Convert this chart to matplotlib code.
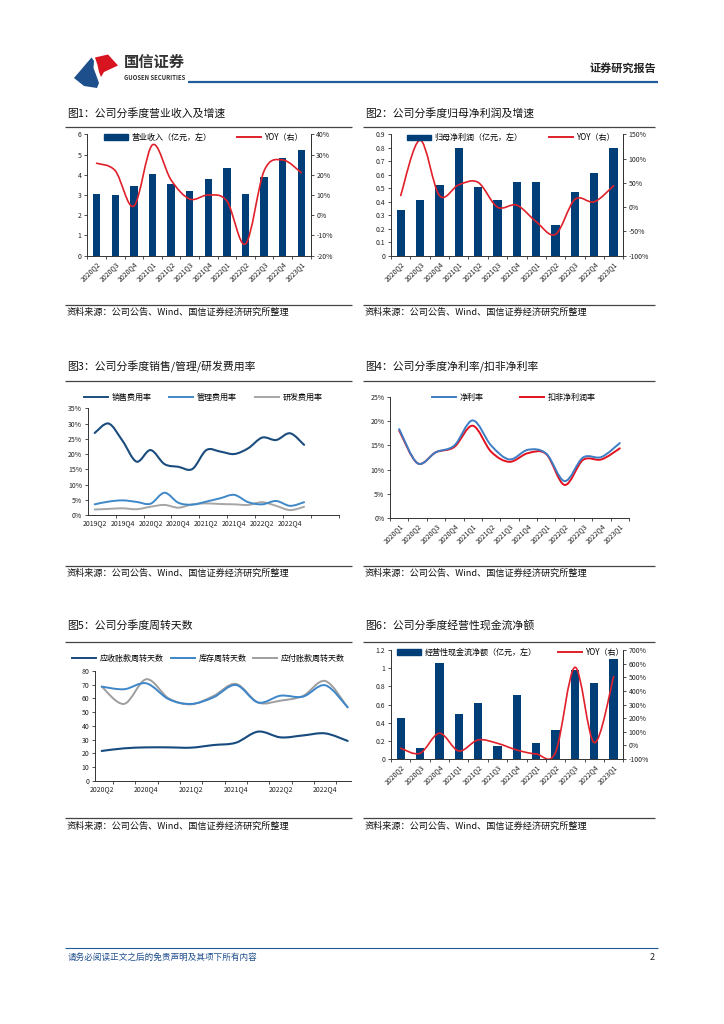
import numpy as np
import matplotlib
matplotlib.use('Agg')
import matplotlib.pyplot as plt
import matplotlib.patches as patches
import matplotlib.lines as lines
from matplotlib.path import Path
from matplotlib.legend import Legend

plt.rcParams['font.family'] = ['Noto Sans CJK SC', 'DejaVu Sans']
plt.rcParams['axes.unicode_minus'] = False

# ---------------- data ----------------
quarters_12 = ['2020Q2', '2020Q3', '2020Q4', '2021Q1', '2021Q2', '2021Q3',
               '2021Q4', '2022Q1', '2022Q2', '2022Q3', '2022Q4', '2023Q1']
quarters_13 = ['2020Q1'] + quarters_12
quarters_16 = ['2019Q2', '2019Q3', '2019Q4', '2020Q1'] + quarters_12

revenue = [3.05, 2.98, 3.45, 4.05, 3.52, 3.22, 3.77, 4.32, 3.05, 3.88, 4.83, 5.20]
revenue_yoy = [25.7, 22.0, 4.5, 34.8, 17.4, 8.0, 10.0, 7.0, -14.2, 22.0, 27.3, 21.0]

net_profit = [0.34, 0.41, 0.525, 0.80, 0.51, 0.41, 0.545, 0.545, 0.225, 0.475, 0.61, 0.80]
net_profit_yoy = [24, 138, 24, 46, 51, 0, 4, -30, -56, 16, 11, 44]

sales_rate = [26.9, 30.0, 24.3, 17.5, 21.3, 16.7, 15.8, 15.1,
              21.3, 20.8, 20.0, 21.9, 25.4, 24.6, 26.8, 23.0]
admin_rate = [3.5, 4.4, 4.8, 4.3, 3.7, 7.3, 4.0, 3.4,
              4.4, 5.5, 6.6, 4.2, 3.5, 4.6, 3.0, 4.2]
rd_rate = [1.8, 2.0, 2.2, 1.9, 2.7, 3.3, 2.4, 3.5,
           3.8, 3.6, 3.5, 3.3, 4.2, 3.0, 1.6, 2.7]

net_margin = [18.4, 11.3, 13.6, 15.0, 20.2, 15.0, 12.1, 14.1, 13.3, 7.6, 12.5, 12.6, 15.5]
deducted_margin = [18.1, 11.3, 13.6, 14.7, 19.1, 13.7, 11.6, 13.4, 13.2, 6.8, 12.0, 12.1, 14.4]

receivable_days = [21.7, 23.6, 24.3, 24.3, 24.1, 26.0, 27.7, 35.8, 31.6, 33.0, 34.5, 29.0]
inventory_days = [68.6, 66.7, 71.0, 59.4, 56.0, 60.8, 69.8, 57.0, 62.0, 61.3, 69.6, 53.5]
payable_days = [68.6, 56.0, 74.0, 60.0, 55.7, 61.8, 70.6, 57.0, 58.4, 61.8, 72.7, 53.5]

cash_flow = [0.455, 0.125, 1.055, 0.49, 0.615, 0.14, 0.70, 0.175, 0.315, 0.98, 0.835, 1.10]
cash_flow_yoy = [-21, -58, 89, -41, 40, 15, -34, -63, -51, 573, 20, 504]

source_text = '资料来源：公司公告、Wind、国信证券经济研究所整理'

# ---------------- style ----------------
W, H = 724, 1024
navy = '#003E78'
red = '#E0202A'
c_sales = '#1B4C7E'
c_admin = '#3F88C8'
c_rd = '#A6A6A6'
c_net = '#3C7DC4'
c_ded = '#E3101E'
c_rec = '#174A7E'
c_inv = '#3D86C9'
c_pay = '#9E9E9E'
spine_c = '#333333'
tick_fs = 5.0
leg_fs = 5.8

fig = plt.figure(figsize=(W / 100, H / 100), dpi=100)
bg = fig.add_axes([0, 0, 1, 1], zorder=-1)
bg.set_xlim(0, W)
bg.set_ylim(H, 0)
bg.axis('off')


def px_axes(l, t, r, b):
    ax = fig.add_axes([l / W, 1 - b / H, (r - l) / W, (b - t) / H])
    ax.set_facecolor('none')
    return ax


def smooth_line(ax, y, color, lw=1.2):
    # bezier smoothing like office charts
    y = np.asarray(y, dtype=float)
    x = np.arange(len(y), dtype=float)
    px = np.concatenate([[x[0]], x, [x[-1]]])
    py = np.concatenate([[y[0]], y, [y[-1]]])
    verts = [(x[0], y[0])]
    codes = [Path.MOVETO]
    for i in range(len(y) - 1):
        c1 = (px[i + 1] + (px[i + 2] - px[i]) / 6, py[i + 1] + (py[i + 2] - py[i]) / 6)
        c2 = (px[i + 2] - (px[i + 3] - px[i + 1]) / 6, py[i + 2] - (py[i + 3] - py[i + 1]) / 6)
        verts += [c1, c2, (px[i + 2], py[i + 2])]
        codes += [Path.CURVE4] * 3
    ax.add_patch(patches.PathPatch(Path(verts, codes), fill=False, edgecolor=color,
                                   lw=lw, capstyle='round', joinstyle='round', zorder=3))


def put_legend(ax, handles, labels, xs, y, hl=3.0):
    for h, lab, x0 in zip(handles, labels, xs):
        leg = Legend(ax, [h], [lab], loc='center left', bbox_to_anchor=(x0, y),
                     bbox_transform=bg.transData, frameon=False, fontsize=leg_fs,
                     handlelength=hl, handletextpad=0.4, borderpad=0, borderaxespad=0)
        ax.add_artist(leg)


def style_axes(ax, right=False):
    ax.spines['top'].set_visible(False)
    ax.spines['right'].set_visible(right)
    for s in ax.spines.values():
        s.set_color(spine_c)
        s.set_linewidth(0.7)
    ax.tick_params(axis='both', labelsize=tick_fs, length=2, width=0.6,
                   color=spine_c, labelcolor='#222222', pad=2)


def cat_xaxis(ax, labels, rotate=True):
    n = len(labels)
    ax.set_xticks(np.arange(n))
    if rotate:
        ax.set_xticklabels(labels, rotation=45, ha='right', va='top',
                           rotation_mode='anchor', fontsize=tick_fs)
    else:
        ax.set_xticklabels(labels, fontsize=tick_fs)
    ax.tick_params(axis='x', which='major', length=0, pad=3)
    ax.set_xticks(np.arange(n + 1) - 0.5, minor=True)
    ax.tick_params(axis='x', which='minor', length=2, width=0.6, color=spine_c)


def chart_frame(x0, x1, title, title_y, line_y, src_line_y, src_y):
    bg.text(x0 + 2, title_y, title, fontsize=7.8, va='center', ha='left', color='#111111')
    bg.hlines(line_y, x0, x1, color='#444444', lw=0.9)
    bg.hlines(src_line_y, x0, x1, color='#444444', lw=0.9)
    bg.text(x0 + 2, src_y, source_text, fontsize=6.6, va='center', ha='left', color='#111111')


def bar_handle():
    return patches.Patch(facecolor=navy, edgecolor=navy)


def line_handle(c, lw=1.4):
    return lines.Line2D([0], [0], color=c, lw=lw)


# ---------------- header / footer ----------------
blue_logo = [(74, 78), (91.5, 57.5), (94, 61), (93.5, 68), (96.5, 76), (99, 83), (97, 88), (84, 86)]
red_logo = [(95, 57.5), (108, 54.5), (118, 65.5), (104, 72), (101, 77), (99, 72), (97.5, 65)]
bg.add_patch(patches.Polygon(blue_logo, closed=True, facecolor='#1C4F8C', edgecolor='none'))
bg.add_patch(patches.Polygon(red_logo, closed=True, facecolor='#D7141F', edgecolor='none'))
bg.text(124, 62, '国信证券', fontsize=11, fontweight='bold', color='#333333', va='center')
bg.text(124.5, 77, 'GUOSEN SECURITIES', fontsize=4.3, fontweight='bold', color='#333333', va='center')
bg.hlines(82, 188, 658, color='#1F5C99', lw=1.6)
bg.text(656, 68, '证券研究报告', fontsize=8, fontweight='bold', color='#222222', ha='right', va='center')
bg.hlines(948, 65, 658, color='#1F5C99', lw=0.8)
bg.text(68, 957, '请务必阅读正文之后的免责声明及其项下所有内容', fontsize=6.2,
        color='#1F4E8C', va='center', style='italic')
bg.text(655, 957, '2', fontsize=6.5, color='#222222', ha='right', va='center')

# ---------------- 图1 ----------------
chart_frame(65, 352, '图1：公司分季度营业收入及增速', 113, 127, 304.5, 312)
ax1 = px_axes(87.3, 134.3, 310.7, 255.7)
x = np.arange(len(quarters_12))
ax1.bar(x, revenue, 0.4, color=navy, zorder=2)
ax1.set_xlim(-0.5, len(x) - 0.5)
ax1.set_ylim(0, 6)
ax1.set_yticks(range(0, 7))
style_axes(ax1, right=True)
cat_xaxis(ax1, quarters_12)
ax1r = ax1.twinx()
ax1r.set_ylim(-20, 40)
ax1r.set_yticks(range(-20, 41, 10))
ax1r.set_yticklabels([f'{v}%' for v in range(-20, 41, 10)])
style_axes(ax1r, right=True)
ax1r.spines['left'].set_visible(False)
ax1r.spines['bottom'].set_visible(False)
smooth_line(ax1r, revenue_yoy, red, lw=1.2)
put_legend(ax1r, [bar_handle(), line_handle(red)], ['营业收入（亿元，左）', 'YOY（右）'],
           [104, 237], 137.5)

# ---------------- 图2 ----------------
chart_frame(363, 655, '图2：公司分季度归母净利润及增速', 113, 127, 304.5, 312)
ax2 = px_axes(391, 134.3, 623.3, 255.7)
ax2.bar(x, net_profit, 0.43, color=navy, zorder=2)
ax2.set_xlim(-0.5, len(x) - 0.5)
ax2.set_ylim(0, 0.9)
ticks2 = np.round(np.arange(0, 0.91, 0.1), 1)
ax2.set_yticks(ticks2)
ax2.set_yticklabels(['0'] + [f'{v:.1f}' for v in ticks2[1:]])
style_axes(ax2, right=True)
cat_xaxis(ax2, quarters_12)
ax2r = ax2.twinx()
ax2r.set_ylim(-100, 150)
ax2r.set_yticks(range(-100, 151, 50))
ax2r.set_yticklabels([f'{v}%' for v in range(-100, 151, 50)])
style_axes(ax2r, right=True)
ax2r.spines['left'].set_visible(False)
ax2r.spines['bottom'].set_visible(False)
smooth_line(ax2r, net_profit_yoy, red, lw=1.2)
put_legend(ax2r, [bar_handle(), line_handle(red)], ['归母净利润（亿元，左）', 'YOY（右）'],
           [407, 549], 137.7)

# ---------------- 图3 ----------------
chart_frame(65, 352, '图3：公司分季度销售/管理/研发费用率', 367, 381, 566, 573)
ax3 = px_axes(87.7, 408.3, 339, 515)
smooth_line(ax3, rd_rate, c_rd, lw=1.4)
smooth_line(ax3, admin_rate, c_admin, lw=1.4)
smooth_line(ax3, sales_rate, c_sales, lw=1.5)
ax3.set_xlim(-0.5, len(quarters_16) - 0.5)
ax3.set_ylim(0, 35)
ax3.set_yticks(range(0, 36, 5))
ax3.set_yticklabels([f'{v}%' for v in range(0, 36, 5)])
style_axes(ax3)
ax3.set_xticks(np.arange(0, len(quarters_16), 2))
ax3.set_xticklabels(quarters_16[::2], fontsize=tick_fs)
ax3.tick_params(axis='x', which='major', length=0, pad=3)
ax3.set_xticks(np.arange(-0.5, len(quarters_16), 2) + 2, minor=True)
ax3.tick_params(axis='x', which='minor', length=2, width=0.6, color=spine_c)
put_legend(ax3, [line_handle(c_sales), line_handle(c_admin), line_handle(c_rd)],
           ['销售费用率', '管理费用率', '研发费用率'], [84, 169, 255], 397)

# ---------------- 图4 ----------------
chart_frame(363, 655, '图4：公司分季度净利率/扣非净利率', 367, 381, 566, 573)
ax4 = px_axes(390, 397.3, 629, 517.7)
smooth_line(ax4, deducted_margin, c_ded, lw=1.4)
smooth_line(ax4, net_margin, c_net, lw=1.4)
ax4.set_xlim(-0.5, len(quarters_13) - 0.5)
ax4.set_ylim(0, 25)
ax4.set_yticks(range(0, 26, 5))
ax4.set_yticklabels([f'{v}%' for v in range(0, 26, 5)])
style_axes(ax4)
cat_xaxis(ax4, quarters_13)
put_legend(ax4, [line_handle(c_net), line_handle(c_ded)], ['净利率', '扣非净利润率'],
           [432, 520], 397.5)

# ---------------- 图5 ----------------
chart_frame(65, 352, '图5：公司分季度周转天数', 625, 642, 818, 826)
ax5 = px_axes(95, 671, 351, 780.7)
smooth_line(ax5, payable_days, c_pay, lw=1.4)
smooth_line(ax5, inventory_days, c_inv, lw=1.4)
smooth_line(ax5, receivable_days, c_rec, lw=1.5)
ax5.set_xlim(-0.3, 11.15)
ax5.set_ylim(0, 80)
ax5.set_yticks(range(0, 81, 10))
style_axes(ax5)
ax5.set_xticks(np.arange(0, len(quarters_12), 2))
ax5.set_xticklabels(quarters_12[::2], fontsize=tick_fs)
ax5.tick_params(axis='x', which='major', length=0, pad=3)
ax5.set_xticks(np.arange(0.5, len(quarters_12) - 1, 1), minor=True)
ax5.tick_params(axis='x', which='minor', length=2, width=0.6, color=spine_c)
put_legend(ax5, [line_handle(c_rec), line_handle(c_inv), line_handle(c_pay)],
           ['应收账款周转天数', '库存周转天数', '应付账款周转天数'], [72, 171, 253], 658)

# ---------------- 图6 ----------------
chart_frame(363, 655, '图6：公司分季度经营性现金流净额', 625, 642, 818, 826)
ax6 = px_axes(391, 650, 623.3, 759)
ax6.bar(x, cash_flow, 0.43, color=navy, zorder=2)
ax6.set_xlim(-0.5, len(x) - 0.5)
ax6.set_ylim(0, 1.2)
ticks6 = np.round(np.arange(0, 1.21, 0.2), 1)
ax6.set_yticks(ticks6)
ax6.set_yticklabels(['0', '0.2', '0.4', '0.6', '0.8', '1', '1.2'])
style_axes(ax6, right=True)
cat_xaxis(ax6, quarters_12)
ax6r = ax6.twinx()
ax6r.set_ylim(-100, 700)
ax6r.set_yticks(range(-100, 701, 100))
ax6r.set_yticklabels([f'{v}%' for v in range(-100, 701, 100)])
style_axes(ax6r, right=True)
ax6r.spines['left'].set_visible(False)
ax6r.spines['bottom'].set_visible(False)
smooth_line(ax6r, cash_flow_yoy, red, lw=1.2)
put_legend(ax6r, [bar_handle(), line_handle(red)], ['经营性现金流净额（亿元，左）', 'YOY（右）'],
           [397, 558], 652)

plt.savefig('out.png', dpi=100)
